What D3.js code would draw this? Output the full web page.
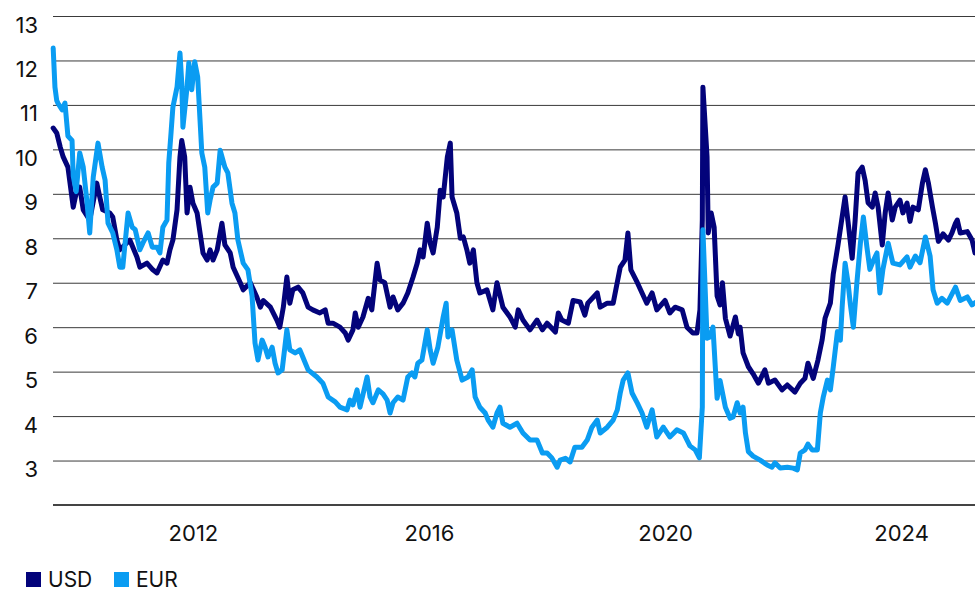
<!DOCTYPE html>
<html>
<head>
<meta charset="utf-8">
<script src="https://cdn.jsdelivr.net/npm/d3@7"></script>
<style>
  html, body { margin: 0; padding: 0; background: #fff; }
  svg { display: block; }
  text { font-family: Inter, "Noto Sans", sans-serif; fill: #111; }
</style>
</head>
<body>
<svg id="chart" width="975" height="595"></svg>
<script>
// ---- data (decimal years, yield %) ----
const usdYears = [2009.63,2009.69,2009.75,2009.80,2009.88,2009.97,2010.03,2010.08,2010.14,2010.25,2010.37,2010.42,2010.47,2010.59,2010.64,2010.71,2010.76,2010.93,2011.05,2011.10,2011.22,2011.32,2011.39,2011.49,2011.56,2011.61,2011.66,2011.73,2011.78,2011.81,2011.86,2011.90,2011.95,2012.00,2012.07,2012.17,2012.24,2012.29,2012.34,2012.41,2012.49,2012.54,2012.63,2012.68,2012.80,2012.85,2012.97,2013.08,2013.14,2013.19,2013.31,2013.42,2013.47,2013.53,2013.59,2013.64,2013.69,2013.78,2013.86,2013.95,2014.03,2014.15,2014.24,2014.29,2014.37,2014.49,2014.58,2014.63,2014.71,2014.75,2014.80,2014.88,2014.97,2015.03,2015.12,2015.17,2015.25,2015.34,2015.39,2015.47,2015.56,2015.64,2015.73,2015.80,2015.85,2015.90,2015.97,2016.02,2016.07,2016.14,2016.19,2016.24,2016.31,2016.36,2016.39,2016.47,2016.53,2016.58,2016.64,2016.69,2016.75,2016.81,2016.86,2016.98,2017.08,2017.15,2017.25,2017.37,2017.46,2017.51,2017.59,2017.71,2017.83,2017.92,2018.00,2018.14,2018.19,2018.25,2018.36,2018.44,2018.56,2018.64,2018.69,2018.85,2018.90,2019.02,2019.12,2019.24,2019.32,2019.37,2019.42,2019.53,2019.61,2019.69,2019.78,2019.86,2020.00,2020.08,2020.17,2020.29,2020.37,2020.47,2020.54,2020.59,2020.63,2020.64,2020.71,2020.73,2020.78,2020.83,2020.88,2020.93,2020.97,2021.02,2021.10,2021.19,2021.24,2021.27,2021.32,2021.41,2021.49,2021.58,2021.69,2021.75,2021.86,2021.98,2022.07,2022.20,2022.29,2022.37,2022.42,2022.51,2022.59,2022.66,2022.71,2022.80,2022.85,2022.93,2023.00,2023.05,2023.10,2023.17,2023.22,2023.27,2023.34,2023.39,2023.44,2023.51,2023.56,2023.61,2023.68,2023.73,2023.78,2023.85,2023.90,2023.98,2024.03,2024.10,2024.15,2024.20,2024.29,2024.36,2024.41,2024.46,2024.53,2024.58,2024.63,2024.71,2024.80,2024.86,2024.92,2024.95,2025.00,2025.12,2025.20,2025.25];
const usdValues = [10.48,10.37,10.05,9.83,9.6,8.7,9.08,9.15,8.64,8.41,9.24,8.93,8.64,8.57,8.48,7.96,7.74,7.96,7.58,7.35,7.44,7.29,7.22,7.51,7.44,7.74,7.96,8.64,9.83,10.2,9.83,8.57,9.15,8.79,8.57,7.67,7.51,7.74,7.51,7.74,8.34,7.85,7.67,7.35,7.0,6.84,7.0,6.68,6.45,6.6,6.45,6.16,6.0,6.45,7.13,6.54,6.84,6.9,6.77,6.45,6.39,6.32,6.39,6.09,6.09,6.0,5.87,5.71,5.94,6.32,6.0,6.23,6.65,6.39,7.44,7.06,7.0,6.45,6.68,6.39,6.54,6.77,7.13,7.44,7.74,7.58,8.34,7.89,7.67,8.25,9.08,8.93,9.83,10.14,8.93,8.57,8.0,8.03,7.74,7.44,7.74,7.0,6.77,6.84,6.39,7.0,6.45,6.23,6.0,6.39,6.16,5.94,6.16,5.94,6.09,5.89,6.32,6.16,6.09,6.6,6.57,6.27,6.54,6.77,6.45,6.54,6.54,7.35,7.51,8.12,7.29,7.0,6.77,6.54,6.77,6.39,6.6,6.32,6.45,6.39,6.0,5.87,5.87,6.39,8.41,11.4,9.83,8.12,8.57,8.25,6.7,6.5,7.0,6.2,5.8,6.23,5.85,6.0,5.42,5.11,4.95,4.74,5.04,4.74,4.81,4.59,4.7,4.54,4.74,4.85,5.19,4.85,5.26,5.71,6.2,6.54,7.2,7.85,8.48,8.93,8.37,7.55,8.4,9.47,9.6,9.3,8.8,8.7,9.02,8.7,7.85,8.57,9.02,8.41,8.7,8.86,8.57,8.79,8.38,8.7,8.64,9.24,9.54,9.25,8.7,8.34,7.93,8.1,7.96,8.12,8.34,8.41,8.12,8.15,7.96,7.67];

const eurYears = [2009.63,2009.66,2009.69,2009.71,2009.78,2009.83,2009.88,2009.95,2009.97,2010.02,2010.08,2010.14,2010.20,2010.25,2010.31,2010.39,2010.46,2010.51,2010.56,2010.64,2010.71,2010.76,2010.81,2010.90,2010.97,2011.02,2011.10,2011.15,2011.24,2011.31,2011.39,2011.44,2011.49,2011.56,2011.59,2011.63,2011.66,2011.73,2011.78,2011.81,2011.83,2011.90,2011.93,2011.98,2012.03,2012.08,2012.15,2012.20,2012.25,2012.29,2012.34,2012.41,2012.46,2012.54,2012.59,2012.66,2012.71,2012.76,2012.85,2012.93,2013.00,2013.05,2013.10,2013.17,2013.22,2013.27,2013.34,2013.39,2013.44,2013.51,2013.59,2013.64,2013.73,2013.81,2013.86,2013.95,2014.10,2014.20,2014.29,2014.41,2014.49,2014.61,2014.66,2014.71,2014.78,2014.83,2014.95,2015.00,2015.05,2015.14,2015.22,2015.29,2015.34,2015.39,2015.47,2015.56,2015.64,2015.71,2015.76,2015.81,2015.88,2015.97,2016.02,2016.07,2016.15,2016.24,2016.29,2016.32,2016.39,2016.47,2016.56,2016.66,2016.73,2016.78,2016.86,2016.95,2017.00,2017.08,2017.15,2017.20,2017.25,2017.37,2017.49,2017.59,2017.71,2017.83,2017.92,2018.00,2018.08,2018.17,2018.22,2018.31,2018.39,2018.47,2018.59,2018.68,2018.76,2018.85,2018.90,2019.02,2019.12,2019.19,2019.24,2019.29,2019.37,2019.44,2019.53,2019.61,2019.69,2019.78,2019.86,2019.97,2020.08,2020.20,2020.31,2020.42,2020.51,2020.58,2020.63,2020.64,2020.71,2020.76,2020.81,2020.88,2020.93,2021.02,2021.10,2021.15,2021.22,2021.27,2021.32,2021.36,2021.41,2021.49,2021.61,2021.73,2021.81,2021.86,2021.95,2022.07,2022.17,2022.24,2022.29,2022.37,2022.42,2022.49,2022.58,2022.63,2022.68,2022.75,2022.80,2022.85,2022.92,2022.97,2023.00,2023.05,2023.10,2023.14,2023.19,2023.25,2023.31,2023.36,2023.42,2023.47,2023.53,2023.59,2023.64,2023.69,2023.78,2023.86,2023.98,2024.10,2024.15,2024.24,2024.32,2024.41,2024.49,2024.54,2024.61,2024.69,2024.78,2024.92,2025.00,2025.12,2025.20,2025.25];
const eurValues = [12.28,11.4,11.1,11.04,10.89,11.04,10.3,10.2,9.4,9.05,9.92,9.6,8.86,8.12,9.38,10.14,9.6,9.31,8.34,8.12,7.74,7.35,7.35,8.57,8.25,8.2,7.74,7.89,8.12,7.8,7.8,7.67,8.25,8.41,9.7,10.4,10.95,11.4,12.17,11.5,10.5,11.4,11.95,11.34,11.97,11.63,9.92,9.6,8.57,8.86,9.15,9.24,9.98,9.6,9.47,8.79,8.57,7.96,7.44,7.29,6.7,5.64,5.26,5.71,5.55,5.33,5.55,5.19,4.97,5.04,5.94,5.49,5.42,5.49,5.33,5.04,4.88,4.74,4.43,4.32,4.2,4.14,4.36,4.25,4.59,4.2,4.88,4.43,4.3,4.59,4.5,4.36,4.07,4.3,4.43,4.36,4.88,4.97,4.88,5.19,5.26,5.94,5.49,5.19,5.55,6.23,6.54,5.78,5.94,5.26,4.81,4.88,5.04,4.43,4.2,4.07,3.91,3.75,4.07,4.2,3.84,3.75,3.84,3.62,3.46,3.46,3.17,3.17,3.06,2.85,3.01,3.05,2.97,3.3,3.3,3.46,3.75,3.91,3.62,3.75,3.91,4.14,4.52,4.81,4.97,4.52,4.29,4.07,3.75,4.14,3.53,3.75,3.53,3.69,3.62,3.33,3.24,3.06,4.2,8.19,5.75,5.78,6.0,4.4,4.8,4.2,3.95,3.98,4.3,4.07,4.2,3.62,3.2,3.1,3.01,2.9,2.85,2.95,2.83,2.85,2.83,2.79,3.17,3.24,3.37,3.24,3.24,4.07,4.43,4.81,4.59,5.11,5.9,5.71,6.45,7.44,7.0,6.5,6.0,7.0,7.9,8.48,7.8,7.3,7.5,7.67,6.77,7.29,7.89,7.44,7.4,7.58,7.35,7.6,7.45,8.03,7.6,6.84,6.54,6.65,6.54,6.9,6.6,6.68,6.5,6.55];

const yTicks = [3,4,5,6,7,8,9,10,11,12,13];
const xTickYears = [2012, 2016, 2020, 2024];
const seriesNames = ["USD", "EUR"];
const seriesColors = ["#03037a", "#0a9cf2"];

// ---- helpers ----
function yearToDate(yv) {
  const yr = Math.floor(yv);
  const start = new Date(yr, 0, 1), end = new Date(yr + 1, 0, 1);
  return new Date(start.getTime() + (yv - yr) * (end - start));
}

const svg = d3.select("#chart");
const plotLeft = 53, plotRight = 975, plotTop = 16, plotBottom = 505;
const FONT = "Inter, 'Noto Sans', sans-serif";

const x = d3.scaleTime()
  .domain([yearToDate(2009.627), yearToDate(2025.25)])
  .range([plotLeft, plotRight]);
const y = d3.scaleLinear().domain([2, 13]).range([plotBottom, plotTop]);

// gridlines + y labels
const yAxis = d3.axisLeft(y).tickValues(yTicks).tickSize(-(plotRight - plotLeft)).tickFormat(d3.format("d"));
const gy = svg.append("g").attr("transform", `translate(${plotLeft},0)`).call(yAxis);
gy.select(".domain").remove();
gy.selectAll(".tick line").attr("stroke", "#3a3a3a").attr("stroke-width", 1);
gy.selectAll(".tick text")
  .attr("x", 38 - plotLeft).attr("dy", "0.32em").attr("transform", "translate(0,9)")
  .style("font-size", "22px").style("font-family", FONT).attr("fill", "#111");

// baseline
svg.append("line").attr("x1", plotLeft).attr("x2", plotRight)
  .attr("y1", y(2)).attr("y2", y(2)).attr("stroke", "#444").attr("stroke-width", 2);

// x axis labels
const xAxis = d3.axisBottom(x).tickValues(xTickYears.map(yr => new Date(yr, 0, 1))).tickSize(0).tickPadding(20).tickFormat(d3.timeFormat("%Y"));
const gx = svg.append("g").attr("transform", `translate(0,${plotBottom})`).call(xAxis);
gx.select(".domain").remove();
gx.selectAll(".tick text").style("font-size", "22px").style("font-family", FONT).attr("fill", "#111");

// lines
const line = d3.line().x(d => x(d.date)).y(d => y(d.v)).curve(d3.curveLinear);
const usd = usdYears.map((t, i) => ({date: yearToDate(t), v: usdValues[i]}));
const eur = eurYears.map((t, i) => ({date: yearToDate(t), v: eurValues[i]}));

svg.append("path").datum(usd).attr("d", line).attr("fill", "none")
  .attr("stroke", seriesColors[0]).attr("stroke-width", 5).attr("stroke-linejoin", "round").attr("stroke-linecap", "round");
svg.append("path").datum(eur).attr("d", line).attr("fill", "none")
  .attr("stroke", seriesColors[1]).attr("stroke-width", 5).attr("stroke-linejoin", "round").attr("stroke-linecap", "round");

// legend
const legend = svg.append("g").attr("transform", "translate(26,571)");
const legendX = [0, 88];
seriesNames.forEach((name, i) => {
  const g = legend.append("g").attr("transform", `translate(${legendX[i]},0)`);
  g.append("rect").attr("x", 0).attr("y", 1).attr("width", 15).attr("height", 15).attr("fill", seriesColors[i]);
  g.append("text").attr("x", 22).attr("y", 16).text(name)
    .style("font-size", "21px").style("font-family", FONT).attr("fill", "#111");
});
</script>
</body>
</html>
